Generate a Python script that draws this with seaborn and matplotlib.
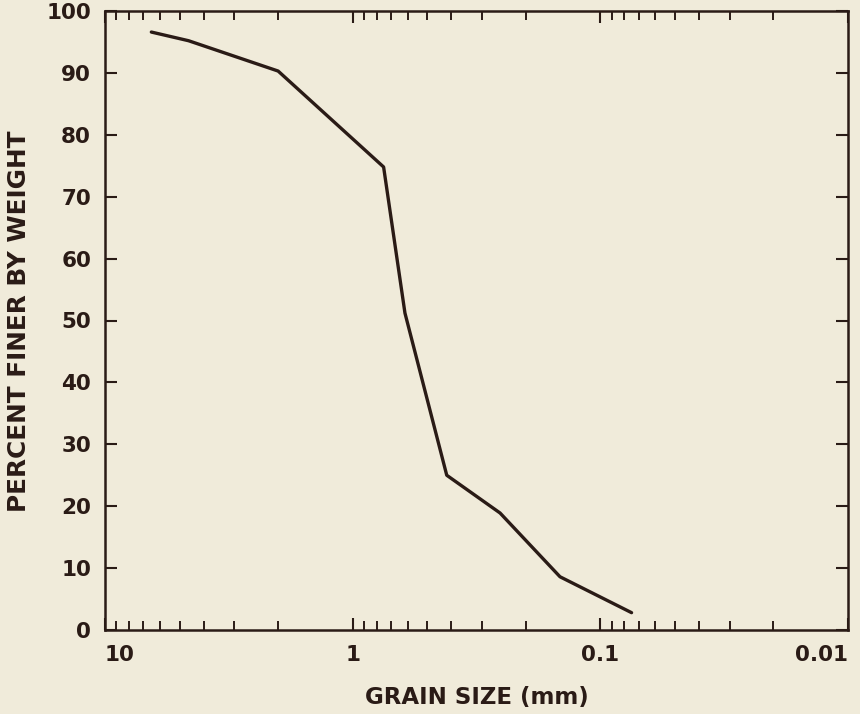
import matplotlib
matplotlib.use("Agg")
import matplotlib.pyplot as plt
import matplotlib.ticker as mticker
import seaborn as sns
import pandas as pd

# Data
grain_size_mm = [6.5, 4.6, 2.0, 0.75, 0.615, 0.417, 0.254, 0.1455, 0.0748]
percent_finer = [96.6, 95.2, 90.3, 74.8, 51.2, 25.0, 18.9, 8.6, 2.8]
x_major_ticks = [10, 1, 0.1, 0.01]
x_tick_labels = ["10", "1", "0.1", "0.01"]
y_ticks = [0, 10, 20, 30, 40, 50, 60, 70, 80, 90, 100]

df = pd.DataFrame({"size": grain_size_mm, "pct": percent_finer})

bg = "#f0ebda"
ink = "#2a1b16"

sns.set_style("ticks", {"axes.facecolor": bg, "figure.facecolor": bg})
plt.rcParams["font.family"] = ["DejaVu Sans"]
plt.rcParams["font.weight"] = "bold"
plt.rcParams["text.color"] = ink
plt.rcParams["axes.labelcolor"] = ink
plt.rcParams["xtick.color"] = ink
plt.rcParams["ytick.color"] = ink

fig = plt.figure(figsize=(8.6, 7.14), dpi=100)
ax = fig.add_axes([105 / 860, (714 - 630) / 714, (848 - 105) / 860, (630 - 11) / 714])
ax.set_facecolor(bg)

sns.lineplot(data=df, x="size", y="pct", ax=ax, color=ink, linewidth=2.4,
             sort=False, estimator=None)

ax.set_xscale("log")
ax.set_xlim(10, 0.01)
ax.set_ylim(0, 100)

ax.xaxis.set_major_locator(mticker.FixedLocator(x_major_ticks))
ax.xaxis.set_minor_locator(mticker.LogLocator(base=10, subs=range(2, 10)))
ax.xaxis.set_minor_formatter(mticker.NullFormatter())
ax.set_xticklabels(x_tick_labels)
ax.set_yticks(y_ticks)
ax.set_yticklabels([str(v) for v in y_ticks])

for s in ax.spines.values():
    s.set_linewidth(1.8)
    s.set_color(ink)
    s.set_visible(True)

ax.tick_params(axis="both", which="major", direction="in", length=8.5, width=1.5,
               labelsize=15.5, top=True, right=True)
ax.tick_params(axis="x", which="minor", direction="in", length=6.5, width=1.4,
               top=True, bottom=True)
ax.tick_params(axis="x", which="major", pad=11)
ax.tick_params(axis="y", which="major", pad=10)

for lbl in ax.get_xticklabels() + ax.get_yticklabels():
    lbl.set_fontweight("bold")
xl = ax.get_xticklabels()
xl[0].set_ha("left")
xl[-1].set_ha("right")

ax.set_xlabel("GRAIN SIZE (mm)", fontsize=16.5, fontweight="bold", labelpad=15)
ax.set_ylabel("PERCENT FINER BY WEIGHT", fontsize=17.8, fontweight="bold")
ax.yaxis.set_label_coords(-0.099, 0.499)

fig.savefig("out.png", dpi=100, facecolor=bg)
